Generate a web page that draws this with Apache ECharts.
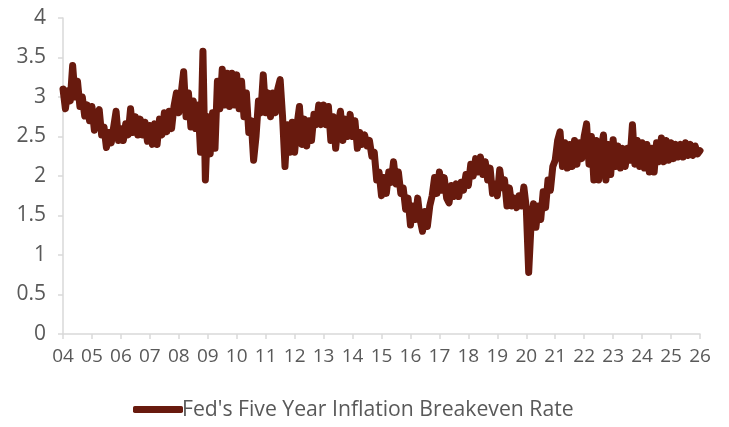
<!DOCTYPE html>
<html>
<head>
<meta charset="utf-8">
<script src="https://cdn.jsdelivr.net/npm/echarts@6/dist/echarts.min.js"></script>
<style>
  html, body { margin: 0; padding: 0; background: #fff; }
  #chart { width: 729px; height: 427px; }
</style>
</head>
<body>
<div id="chart"></div>
<script>
// Monthly readings of the five-year breakeven inflation rate (%), Jan 2004 onward
const seriesName = "Fed's Five Year Inflation Breakeven Rate";
const firstYear = 2004;
const lastYear = 2026;

const rates2004to2007 = [
  3.10, 2.85, 3.08, 2.95, 3.40, 3.00, 3.20, 2.88, 3.00, 2.76, 2.90, 2.70,
  2.88, 2.58, 2.78, 2.84, 2.52, 2.62, 2.36, 2.55, 2.42, 2.62, 2.82, 2.45,
  2.60, 2.45, 2.66, 2.52, 2.85, 2.55, 2.75, 2.52, 2.72, 2.52, 2.68, 2.44,
  2.64, 2.40, 2.66, 2.40, 2.72, 2.52, 2.80, 2.56, 2.82, 2.60, 2.88, 3.05
];
const rates2008to2011 = [
  2.80, 3.05, 3.32, 2.75, 3.05, 2.62, 2.95, 2.60, 2.90, 2.30, 3.58, 1.95,
  2.75, 2.28, 2.80, 2.35, 3.20, 2.85, 3.35, 2.90, 3.30, 2.88, 3.30, 2.90,
  3.28, 2.85, 3.20, 2.75, 3.05, 2.55, 2.70, 2.20, 2.50, 2.95, 2.80, 3.28,
  2.80, 3.05, 2.75, 3.05, 2.80, 3.10, 3.22, 2.75, 2.12, 2.65, 2.30, 2.68
];
const rates2012to2015 = [
  2.30, 2.65, 2.88, 2.40, 2.72, 2.38, 2.70, 2.45, 2.78, 2.65, 2.90, 2.65,
  2.90, 2.65, 2.88, 2.45, 2.75, 2.35, 2.65, 2.82, 2.45, 2.72, 2.50, 2.78,
  2.50, 2.70, 2.35, 2.55, 2.40, 2.52, 2.38, 2.45, 2.25, 2.30, 1.95, 2.05,
  1.75, 1.98, 1.78, 2.05, 1.92, 2.18, 1.90, 2.05, 1.78, 1.85, 1.58, 1.72
];
const rates2016to2019 = [
  1.38, 1.62, 1.45, 1.72, 1.45, 1.30, 1.55, 1.36, 1.62, 1.75, 1.98, 1.78,
  2.05, 1.82, 1.98, 1.72, 1.66, 1.88, 1.74, 1.90, 1.74, 1.92, 1.82, 2.02,
  1.88, 2.15, 2.00, 2.22, 2.05, 2.24, 2.02, 2.18, 1.95, 2.10, 1.78, 1.90,
  1.75, 2.08, 1.85, 1.95, 1.62, 1.85, 1.62, 1.72, 1.60, 1.75, 1.62, 1.86
];
const rates2020to2023 = [
  1.60, 0.78, 1.40, 1.65, 1.35, 1.62, 1.45, 1.80, 1.60, 1.95, 1.82, 2.12,
  2.20, 2.45, 2.56, 2.12, 2.42, 2.10, 2.40, 2.12, 2.45, 2.15, 2.42, 2.22,
  2.50, 2.66, 2.15, 2.50, 1.95, 2.45, 1.95, 2.35, 2.52, 1.95, 2.40, 2.02,
  2.46, 2.12, 2.38, 2.10, 2.35, 2.12, 2.35, 2.20, 2.65, 2.15, 2.45, 2.12
];
const rates2024to2026 = [
  2.42, 2.10, 2.40, 2.05, 2.35, 2.05, 2.42, 2.18, 2.48, 2.18, 2.45, 2.20,
  2.42, 2.22, 2.40, 2.24, 2.40, 2.24, 2.42, 2.26, 2.40, 2.26, 2.38, 2.28,
  2.32
];

const yTickValues = [0, 0.5, 1, 1.5, 2, 2.5, 3, 3.5, 4];

const monthlyRates = [].concat(
  rates2004to2007, rates2008to2011, rates2012to2015,
  rates2016to2019, rates2020to2023, rates2024to2026
);
// Each reading sits at the start of its month on a decimal-year axis
const lineData = monthlyRates.map((v, i) => [firstYear + i / 12, v]);

const lineColor = '#681a0e';
const labelColor = '#595959';
const axisColor = '#d9d9d9';
const fontFamily = "'Open Sans', 'Noto Sans', sans-serif";

const chart = echarts.init(document.getElementById('chart'), null, { renderer: 'canvas' });
chart.setOption({
  animation: false,
  backgroundColor: '#ffffff',
  grid: { left: 63, right: 29, top: 18, bottom: 93, containLabel: false },
  xAxis: {
    type: 'value',
    min: firstYear,
    max: lastYear,
    interval: 1,
    axisLine: { show: true, lineStyle: { color: axisColor, width: 1.5 } },
    axisTick: { show: true, length: 5, lineStyle: { color: axisColor, width: 1.5 } },
    splitLine: { show: false },
    axisLabel: {
      color: labelColor,
      fontSize: 19,
      fontFamily: fontFamily,
      margin: 13,
      formatter: v => String(Math.round(v) % 100).padStart(2, '0')
    }
  },
  yAxis: {
    type: 'value',
    min: yTickValues[0],
    max: yTickValues[yTickValues.length - 1],
    interval: 0.5,
    axisLine: { show: true, lineStyle: { color: axisColor, width: 1.5 } },
    axisTick: { show: true, length: 5, lineStyle: { color: axisColor, width: 1.5 } },
    splitLine: { show: false },
    axisLabel: {
      color: labelColor,
      fontSize: 21,
      fontFamily: fontFamily,
      margin: 17,
      formatter: v => String(v)
    }
  },
  legend: {
    show: true,
    left: 133,
    top: 399,
    padding: 0,
    itemWidth: 50,
    itemHeight: 7,
    itemGap: 10,
    icon: 'roundRect',
    textStyle: { color: labelColor, fontSize: 21.2, fontFamily: fontFamily, padding: [0, 0, 0, -6] },
    data: [{ name: seriesName, itemStyle: { color: lineColor } }]
  },
  series: [{
    name: seriesName,
    type: 'line',
    data: lineData,
    showSymbol: false,
    symbol: 'none',
    color: lineColor,
    lineStyle: { color: lineColor, width: 7, cap: 'round', join: 'round' }
  }]
});
</script>
</body>
</html>
